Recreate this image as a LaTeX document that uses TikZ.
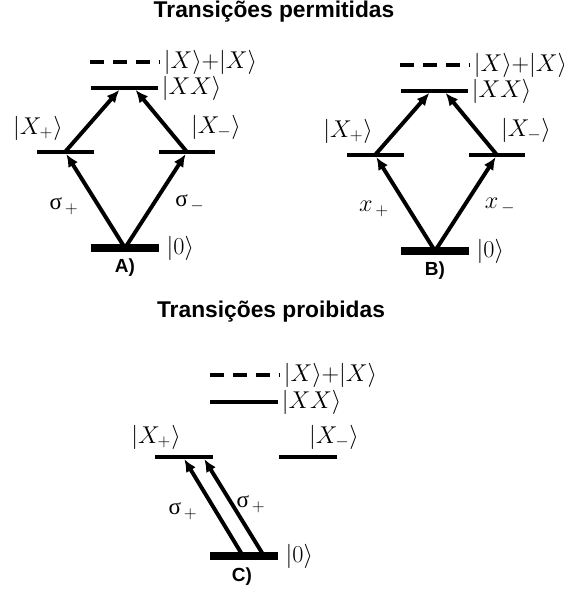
\documentclass[tikz,border=0pt]{standalone}
\usepackage{fontspec}
\setsansfont{Liberation Sans}
\newfontfamily\grk{Liberation Serif}
\usetikzlibrary{arrows.meta,positioning}

\tikzset{
	lvl/.style={line width=3.5pt},
	gnd/.style={line width=5pt},
	virt/.style={line width=3.5pt, dash pattern=on 9.9pt off 6.4pt},
	trans/.style={line width=2.8pt, -{Latex[length=9pt,width=8pt]}, shorten >=1.8pt},
	ket/.style={font=\fontsize{16.5}{19}\selectfont, inner sep=1pt},
	title/.style={font=\sffamily\bfseries\fontsize{16.2}{19}\selectfont},
	tag/.style={font=\sffamily\bfseries\fontsize{13.5}{16}\selectfont}
}

\begin{document}
\begin{tikzpicture}[x=0.025cm, y=-0.025cm]

		% === page (pixel grid, y down) ===
		\useasboundingbox (0,0) rectangle (563,589);

		% === Titles ===
		\node[title, anchor=base] (tperm) at (274,18) {Transições permitidas};
		\node[title, anchor=base] (tproi) at (271,317) {Transições proibidas};

		% === Allowed: A) and B) ===
		\foreach \p/\dx/\dy/\s in {A/0/0/{\grk σ}, B/310/3/$x$} {
			\begin{scope}[shift={(\dx,\dy)}]
				\coordinate (\p 0)  at (125,248);		% ground
				\coordinate (\p p)  at (65,152);		% X+
				\coordinate (\p m)  at (187,152);		% X-
				\coordinate (\p xl) at (121,88);		% XX, left end
				\coordinate (\p xr) at (134,88);		% XX, right end

				\draw[virt] (90,62) -- (160,62) node[ket, right] (\p v) {$|X\rangle{+}|X\rangle$};
				\draw[lvl]  (91,88) -- (158,88) node[ket, right] (\p xx) {$|XX\rangle$};
				\draw[lvl]  (37,152) -- (94,152);
				\draw[lvl]  (159,152) -- (215,152);
				\draw[gnd]  (91,248) -- (159,248) node[ket, right=2pt] (\p g) {$|0\rangle$};

				\node[ket] (\p kp) at (38,128) {$|X_{+}\rangle$};
				\node[ket] (\p km) at (216,127) {$|X_{-}\rangle$};
				\node[tag] (\p t)  at (125,268) {\p)};

				\draw[trans] (\p 0) -- (\p p);
				\draw[trans] (\p 0) -- (\p m);
				\draw[trans] (\p p) -- (\p xl);
				\draw[trans] (\p m) -- (\p xr);

				\node[ket] (\p sp) at (64,206) {\s$_{\,+}$};
				\node[ket] (\p sm) at (190,203) {\s$_{\,-}$};
			\end{scope}
		}

		% === Forbidden: C) ===
		\coordinate (C0l) at (243,556);
		\coordinate (C0r) at (264,556);
		\coordinate (Cpl) at (183,457);
		\coordinate (Cpr) at (203,457);

		\draw[virt] (210,375) -- (280,375) node[ket, right] (Cv) {$|X\rangle{+}|X\rangle$};
		\draw[lvl]  (210,402) -- (278,402) node[ket, right] (Cxx) {$|XX\rangle$};
		\draw[lvl]  (155,457) -- (213,457);
		\draw[lvl]  (279,457) -- (337,457);
		\draw[gnd]  (210,556) -- (278,556) node[ket, right=2pt] (Cg) {$|0\rangle$};

		\node[ket] (Ckp) at (156,437) {$|X_{+}\rangle$};
		\node[ket] (Ckm) at (334,437) {$|X_{-}\rangle$};
		\node[tag] (Ct)  at (242,577) {C)};

		\draw[trans] (C0l) -- (Cpl);
		\draw[trans] (C0r) -- (Cpr);

		\node[ket] (Csl) at (183,511) {{\grk σ}$_{\,+}$};
		\node[ket] (Csr) at (251,504) {{\grk σ}$_{\,+}$};
	\end{tikzpicture}
\end{document}
